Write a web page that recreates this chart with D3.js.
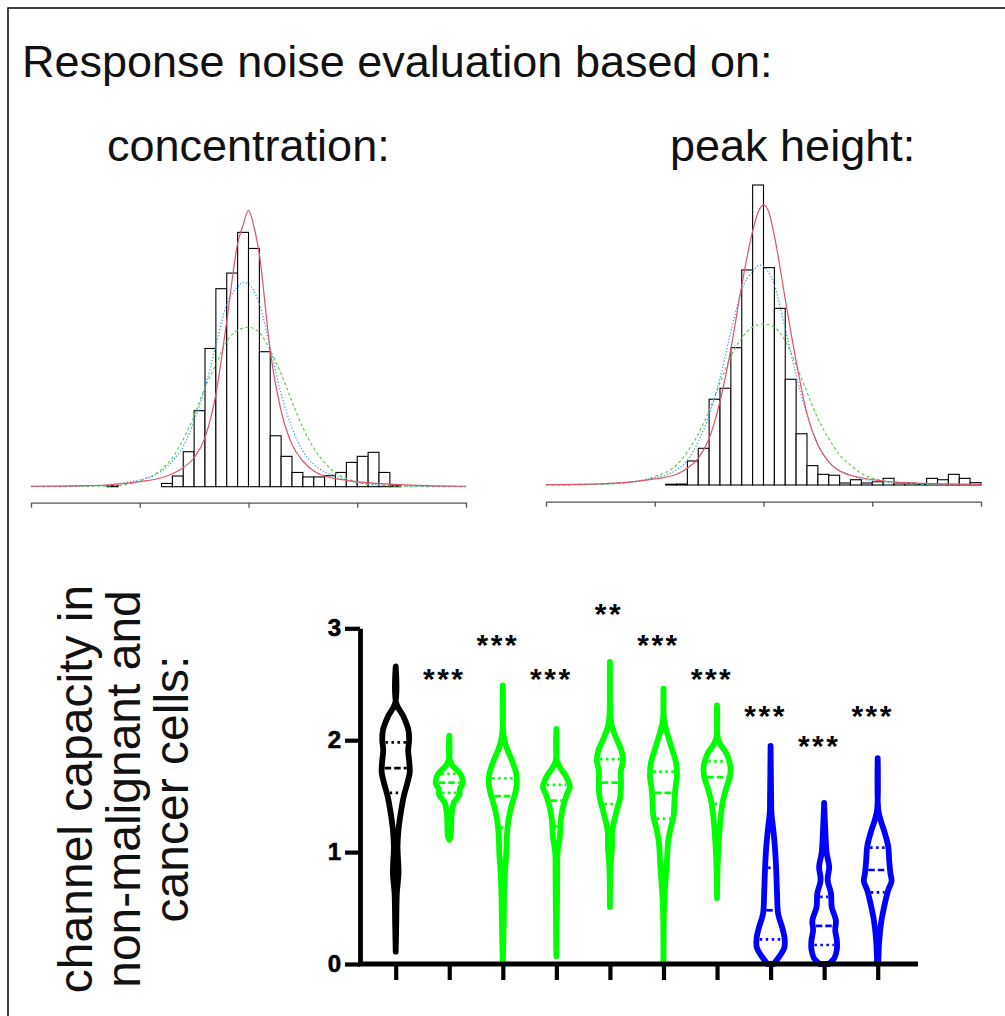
<!DOCTYPE html>
<html>
<head>
<meta charset="utf-8">
<script src="https://cdn.jsdelivr.net/npm/d3@7"></script>
<style>
    body { margin: 0; background: #fff; }
    svg { display: block; font-family: "Liberation Sans", Arial, sans-serif; }
    .ytick { font-size: 24px; font-weight: bold; }
</style>
</head>
<body>
<svg></svg>
<script>
/*global d3*/

// histogram bins (left edge, width 0.1) and percent of cells, concentration based
let concBins = [0.7, 1.2, 1.3, 1.4, 1.5, 1.6, 1.7, 1.8, 1.9, 2.0, 2.1, 2.2, 2.3, 2.4, 2.5, 2.6, 2.7, 2.8, 2.9, 3.0, 3.1, 3.2, 3.3];
let concPercent = [0.06, 0.21, 0.69, 2.26, 4.91, 8.93, 12.79, 13.8, 16.43, 15.39, 8.72, 3.29, 1.96, 0.92, 0.63, 0.63, 0.71, 0.92, 1.57, 1.96, 2.22, 0.92, 0.08];

// same for peak height
let peakBins = [1.1, 1.2, 1.3, 1.4, 1.5, 1.6, 1.7, 1.8, 1.9, 2.0, 2.1, 2.2, 2.3, 2.4, 2.5, 2.6, 2.7, 2.8, 2.9, 3.0, 3.1, 3.2, 3.3, 3.4, 3.5, 3.6, 3.7, 3.8, 3.9];
let peakPercent = [0.05, 0.06, 1.55, 2.37, 5.54, 6.25, 8.87, 13.89, 19.38, 14.04, 11.41, 6.83, 3.31, 1.25, 0.69, 0.63, 0.13, 0.34, 0.13, 0.21, 0.43, 0.13, 0.11, 0.05, 0.43, 0.34, 0.69, 0.43, 0.15];

// fitted curves: [x, percent]
let concRed = [[0, 0.03], [0.5, 0.07], [0.7, 0.11], [1.0, 0.33], [1.2, 0.58], [1.3, 0.84], [1.4, 1.23], [1.5, 1.87], [1.6, 3.17], [1.7, 5.96], [1.8, 10.7], [1.9, 15.7], [1.95, 16.9], [2.0, 17.85], [2.05, 16.8], [2.1, 15.0], [2.2, 8.77], [2.3, 4.89], [2.4, 2.73], [2.5, 1.66], [2.6, 1.01], [2.7, 0.69], [2.9, 0.41], [3.1, 0.26], [3.5, 0.1], [4.0, 0.03]];
let concBlue = [[0, 0.02], [0.5, 0.05], [1.0, 0.45], [1.2, 1.0], [1.3, 1.66], [1.4, 2.6], [1.5, 4.24], [1.6, 6.4], [1.7, 9.1], [1.8, 11.8], [1.9, 12.9], [1.96, 13.2], [2.0, 13.1], [2.1, 11.8], [2.2, 9.0], [2.3, 6.0], [2.4, 3.8], [2.5, 2.3], [2.6, 1.44], [2.7, 0.95], [2.8, 0.7], [2.9, 0.43], [3.1, 0.19], [3.5, 0.05], [4.0, 0.01]];
let concGreen = [[0, 0.0], [0.5, 0.02], [0.8, 0.08], [1.0, 0.38], [1.2, 1.12], [1.3, 1.87], [1.4, 3.06], [1.5, 4.57], [1.6, 6.4], [1.7, 7.9], [1.8, 9.4], [1.9, 10.1], [2.0, 10.3], [2.1, 9.95], [2.2, 8.8], [2.3, 7.3], [2.4, 5.5], [2.5, 3.8], [2.6, 2.5], [2.7, 1.55], [2.8, 0.9], [2.9, 0.54], [3.1, 0.15], [3.5, 0.02], [4.0, 0]];

let peakRed = [[0, 0.02], [0.5, 0.07], [1.0, 0.39], [1.2, 0.69], [1.3, 1.08], [1.4, 1.72], [1.5, 3.0], [1.6, 5.4], [1.7, 8.8], [1.8, 12.9], [1.9, 16.4], [1.95, 17.6], [2.0, 18.1], [2.05, 17.6], [2.1, 16.1], [2.2, 12.0], [2.3, 8.0], [2.4, 4.6], [2.5, 2.6], [2.6, 1.5], [2.7, 0.9], [2.9, 0.47], [3.1, 0.26], [3.5, 0.1], [4.0, 0.04]];
let peakBlue = [[0, 0.02], [0.5, 0.06], [1.0, 0.47], [1.2, 0.97], [1.3, 1.6], [1.4, 2.8], [1.5, 4.5], [1.6, 6.9], [1.7, 9.9], [1.8, 12.6], [1.9, 13.8], [1.97, 14.2], [2.1, 12.9], [2.2, 10.1], [2.3, 7.1], [2.4, 4.5], [2.5, 2.58], [2.6, 1.5], [2.8, 0.65], [3.07, 0.21], [3.5, 0.05], [4.0, 0.01]];
let peakGreen = [[0, 0.0], [0.5, 0.05], [0.8, 0.2], [1.0, 0.54], [1.2, 1.29], [1.3, 2.15], [1.4, 3.3], [1.5, 4.8], [1.6, 6.6], [1.7, 8.3], [1.8, 9.5], [1.9, 10.2], [2.0, 10.4], [2.1, 10.2], [2.2, 9.3], [2.3, 7.75], [2.4, 6.0], [2.5, 4.3], [2.6, 3.0], [2.7, 1.94], [2.8, 1.29], [2.9, 0.75], [3.07, 0.32], [3.5, 0.04], [4.0, 0]];

// violin groups: cell type of each group
let groups = ['ref', 'g1', 'g2', 'g3', 'g4', 'g5', 'g6', 'b1', 'b2', 'b3'];
let cellType = ['non-malignant', 'cancer A', 'cancer A', 'cancer A', 'cancer A', 'cancer A', 'cancer A', 'cancer B', 'cancer B', 'cancer B'];

// quartiles of channel capacity
let q1 = [1.53, 1.53, 1.22, 1.23, 1.43, 1.30, 1.43, 0.22, 0.17, 0.64];
let median = [1.75, 1.62, 1.50, 1.46, 1.62, 1.53, 1.67, 0.48, 0.34, 0.84];
let q3 = [1.98, 1.70, 1.66, 1.60, 1.83, 1.72, 1.81, 0.86, 0.60, 1.04];

// significance marks and the level they sit at
let stars = ['', '***', '***', '***', '**', '***', '***', '***', '***', '***'];
let starLevel = [0, 2.61, 2.91, 2.61, 3.19, 2.91, 2.61, 2.28, 2.01, 2.28];

// violin outlines: [value, relative density]
let violins = [
    [[2.66, 0], [2.33, 0.04], [2.21, 0.56], [2.09, 0.91], [2.0, 0.96], [1.91, 0.89], [1.82, 0.96], [1.75, 1.0], [1.71, 1.0], [1.62, 0.84], [1.49, 0.56], [1.35, 0.36], [1.2, 0.2], [1.05, 0.13], [0.81, 0.2], [0.63, 0.08], [0.37, 0.04], [0.11, 0]],
    [[2.04, 0], [1.82, 0.04], [1.76, 0.32], [1.70, 0.79], [1.64, 0.96], [1.61, 0.96], [1.57, 0.77], [1.51, 0.71], [1.44, 0.32], [1.35, 0.18], [1.23, 0.13], [1.14, 0.1], [1.11, 0]],
    [[2.49, 0], [2.06, 0.04], [1.94, 0.25], [1.82, 0.65], [1.70, 0.96], [1.61, 1.0], [1.53, 0.89], [1.41, 0.61], [1.29, 0.41], [1.14, 0.29], [0.99, 0.25], [0.87, 0.18], [0.75, 0.13], [0.51, 0.08], [0.21, 0.04], [0, 0]],
    [[2.10, 0], [1.82, 0.04], [1.76, 0.25], [1.67, 0.72], [1.58, 0.96], [1.53, 0.79], [1.41, 0.49], [1.29, 0.32], [1.14, 0.25], [0.99, 0.08], [0.81, 0.06], [0.51, 0.04], [0.07, 0]],
    [[2.70, 0], [2.21, 0.04], [2.12, 0.15], [2.0, 0.51], [1.91, 0.82], [1.82, 0.94], [1.73, 0.79], [1.61, 0.79], [1.50, 0.75], [1.38, 0.51], [1.26, 0.27], [1.17, 0.15], [1.05, 0.15], [0.87, 0.04], [0.51, 0]],
    [[2.46, 0], [2.18, 0.04], [2.09, 0.2], [1.94, 0.56], [1.79, 0.91], [1.67, 0.96], [1.58, 0.86], [1.47, 0.79], [1.32, 0.72], [1.20, 0.49], [1.08, 0.32], [0.93, 0.25], [0.75, 0.15], [0.51, 0.04], [0, 0]],
    [[2.31, 0], [2.03, 0.04], [1.97, 0.2], [1.88, 0.68], [1.76, 0.96], [1.67, 0.91], [1.58, 0.68], [1.47, 0.44], [1.32, 0.27], [1.11, 0.13], [0.87, 0.04], [0.59, 0]],
    [[1.95, 0], [1.47, 0.04], [1.35, 0.06], [1.17, 0.22], [0.99, 0.34], [0.81, 0.41], [0.63, 0.46], [0.45, 0.54], [0.33, 0.82], [0.24, 0.99], [0.15, 0.99], [0.08, 0.7], [0.01, 0.29], [0, 0.25]],
    [[1.44, 0], [1.23, 0.07], [0.99, 0.18], [0.87, 0.36], [0.75, 0.25], [0.63, 0.49], [0.51, 0.54], [0.39, 0.84], [0.30, 0.79], [0.21, 0.91], [0.13, 0.91], [0.05, 0.72], [0.01, 0.41], [0, 0.35]],
    [[1.84, 0], [1.38, 0.04], [1.29, 0.2], [1.17, 0.51], [1.05, 0.75], [0.93, 0.82], [0.81, 0.91], [0.74, 0.99], [0.66, 0.75], [0.54, 0.51], [0.39, 0.27], [0.21, 0.11], [0, 0.04]]
];

let yTicks = [0, 1, 2, 3];
let histTicks = [0, 1, 2, 3, 4];

// canvas
let width = 1005;
let height = 1016;

let svg = d3.select('svg')
    .attr('width', width)
    .attr('height', height);

// frame: only top and left edges are visible
svg.append('path')
    .attr('d', 'M8,1016V8H1005')
    .attr('fill', 'none')
    .attr('stroke', '#000')
    .attr('stroke-width', 1.5);

// titles
svg.append('text')
    .attr('x', 22)
    .attr('y', 77)
    .attr('font-size', 45)
    .attr('fill', '#111')
    .text('Response noise evaluation based on:');

svg.append('text')
    .attr('x', 107)
    .attr('y', 161)
    .attr('font-size', 45)
    .attr('fill', '#111')
    .text('concentration:');

svg.append('text')
    .attr('x', 670)
    .attr('y', 161)
    .attr('font-size', 45)
    .attr('fill', '#111')
    .text('peak height:');

// one histogram panel with its three fitted curves
function drawHistogram(left, base, axisY, bins, percent, curves) {
    let x = d3.scaleLinear().domain([0, 4]).range([left, left + 435]);
    let y = d3.scaleLinear().domain([0, 20]).range([base, base - 309.6]);
    let binWidth = 0.1;

    let g = svg.append('g');

    g.append('g')
        .selectAll('rect')
        .data(bins)
        .enter()
        .append('rect')
        .attr('x', d => x(d))
        .attr('y', (d, i) => y(percent[i]))
        .attr('width', d => x(d + binWidth) - x(d))
        .attr('height', (d, i) => y(0) - y(percent[i]))
        .attr('fill', '#fff')
        .attr('stroke', '#000')
        .attr('stroke-width', 1.1);

    let line = d3.line()
        .x(d => x(d[0]))
        .y(d => y(d[1]))
        .curve(d3.curveMonotoneX);

    let curveStyle = [
        { color: '#61D04F', dash: '3,2.5' },
        { color: '#2297E6', dash: '1.2,2' },
        { color: '#DF536B', dash: null }
    ];

    curves.forEach((c, i) => {
        g.append('path')
            .attr('d', line(c))
            .attr('fill', 'none')
            .attr('stroke', curveStyle[i].color)
            .attr('stroke-width', 1.2)
            .attr('stroke-dasharray', curveStyle[i].dash);
    });

    let axis = g.append('g')
        .attr('transform', 'translate(0,' + axisY + ')')
        .call(d3.axisBottom(x).tickValues(histTicks).tickFormat('').tickSize(5).tickSizeOuter(0));
    axis.select('.domain').attr('stroke', '#555').attr('stroke-width', 1.3);
    axis.selectAll('.tick line').attr('stroke', '#555').attr('stroke-width', 1.3);
}

drawHistogram(31, 486.7, 502.7, concBins, concPercent, [concGreen, concBlue, concRed]);
drawHistogram(546, 485, 501.7, peakBins, peakPercent, [peakGreen, peakBlue, peakRed]);

// violin panel
let vy = d3.scaleLinear().domain([0, 3]).range([964, 628.3]);
let vx = d3.scalePoint().domain(groups).range([395.7, 877.7]);
let halfWidth = d3.scaleLinear().domain([0, 1]).range([0, 14]);
let color = d3.scaleOrdinal()
    .domain(['non-malignant', 'cancer A', 'cancer B'])
    .range(['#000000', '#00ff00', '#0000ff']);

let vg = svg.append('g');

groups.forEach((name, i) => {
    let cx = vx(name);
    let c = color(cellType[i]);
    let profile = violins[i];

    let area = d3.area()
        .y(d => vy(d[0]))
        .x0(d => cx - halfWidth(d[1]))
        .x1(d => cx + halfWidth(d[1]))
        .curve(d3.curveCatmullRom);

    vg.append('path')
        .attr('d', area(profile))
        .attr('fill', 'none')
        .attr('stroke', c)
        .attr('stroke-width', 5.8)
        .attr('stroke-linejoin', 'round');

    // density at a value, for the length of the inner lines
    let sorted = profile.slice().sort((a, b) => a[0] - b[0]);
    let dens = d3.scaleLinear().domain(sorted.map(d => d[0])).range(sorted.map(d => d[1])).clamp(true);

    let inner = [
        { v: q1[i], dash: '2.5,3.5' },
        { v: median[i], dash: '6.5,3' },
        { v: q3[i], dash: '2.5,3.5' }
    ];

    inner.forEach(q => {
        let hw = Math.max(halfWidth(dens(q.v)) - 3, 1.3);
        vg.append('line')
            .attr('x1', cx - hw)
            .attr('x2', cx + hw)
            .attr('y1', vy(q.v))
            .attr('y2', vy(q.v))
            .attr('stroke', c)
            .attr('stroke-width', 2.7)
            .attr('stroke-dasharray', q.dash);
    });

    if (stars[i]) {
        vg.append('text')
            .attr('x', cx - (stars[i].length - 2) * 4 - 1)
            .attr('y', vy(starLevel[i]) + 17)
            .attr('text-anchor', 'middle')
            .style('font-size', '30px')
            .style('font-weight', 'bold')
            .style('letter-spacing', '2.5px')
            .text(stars[i]);
    }
});

// axes of the violin panel (labels drawn separately)
let yAxis = vg.append('g')
    .attr('transform', 'translate(360,0)')
    .call(d3.axisLeft(vy).tickValues(yTicks).tickFormat('').tickSize(15).tickSizeOuter(0));
yAxis.select('.domain').attr('stroke', '#000').attr('stroke-width', 4.8);
yAxis.selectAll('.tick line').attr('stroke', '#000').attr('stroke-width', 4.2);

vg.append('g')
    .selectAll('text')
    .data(yTicks)
    .enter()
    .append('text')
    .attr('class', 'ytick')
    .attr('x', 341)
    .attr('y', d => vy(d) + 8)
    .attr('text-anchor', 'end')
    .attr('fill', '#000')
    .attr('stroke', '#000')
    .attr('stroke-width', 0.6)
    .text(d => d);

vg.append('line')
    .attr('x1', 358)
    .attr('x2', 918)
    .attr('y1', vy(0))
    .attr('y2', vy(0))
    .attr('stroke', '#000')
    .attr('stroke-width', 4.8);

let xAxis = vg.append('g')
    .attr('transform', 'translate(0,' + vy(0) + ')')
    .call(d3.axisBottom(vx).tickFormat('').tickSize(16).tickSizeOuter(0));
xAxis.select('.domain').remove();
xAxis.selectAll('.tick line').attr('stroke', '#000').attr('stroke-width', 4.2);

// rotated panel title
let label = svg.append('text')
    .attr('transform', 'translate(0,789) rotate(-90)')
    .attr('text-anchor', 'middle')
    .attr('font-size', 48)
    .attr('fill', '#111');

['channel capacity in', 'non-malignant and', 'cancer cells:'].forEach((t, i) => {
    label.append('tspan')
        .attr('x', 0)
        .attr('y', [92, 140, 188][i])
        .text(t);
});
</script>
</body>
</html>
